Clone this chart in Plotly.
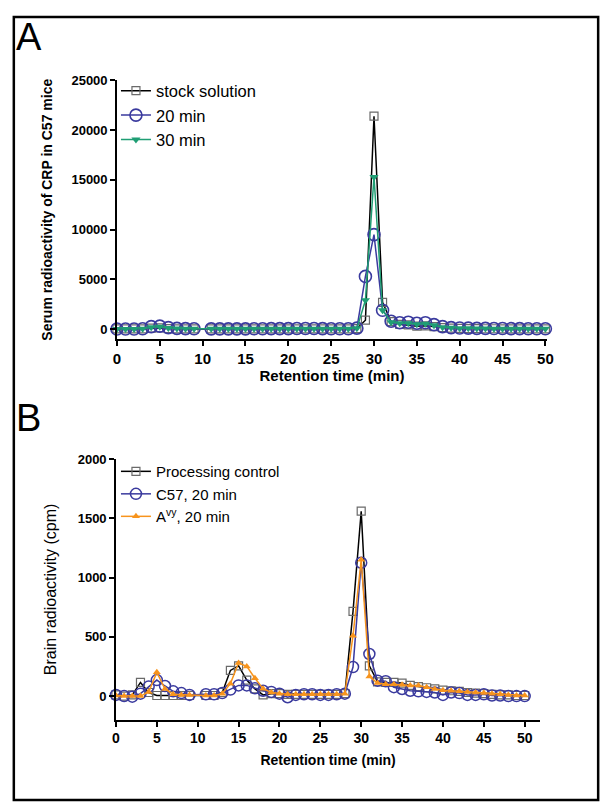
import plotly.graph_objects as go

# ---------------- data ----------------
x_a = list(range(0, 10)) + list(range(11, 51))
stock_solution = [20, 20, 20, 30, 100, 120, 60, 30, 20, 20,
                  20, 20, 20, 20, 20, 20, 20, 30, 30, 30,
                  30, 30, 30, 30, 30, 30, 30, 60, 900, 21400,
                  2700, 750, 480, 420, 300, 330, 250, 150, 100, 70,
                  60, 50, 40, 40, 30, 30, 30, 30, 30, 30]
min20 = [20, 20, 20, 40, 250, 300, 150, 80, 50, 40,
         30, 30, 30, 30, 30, 40, 40, 50, 50, 50,
         60, 60, 60, 50, 40, 40, 40, 100, 5300, 9500,
         1900, 800, 650, 700, 600, 650, 450, 250, 150, 120,
         100, 80, 80, 60, 60, 50, 50, 40, 40, 40]
min30 = [20, 20, 20, 30, 200, 250, 120, 60, 40, 30,
         30, 30, 30, 30, 30, 30, 40, 40, 40, 40,
         50, 50, 50, 40, 40, 40, 40, 80, 2900, 15300,
         1900, 700, 600, 600, 500, 550, 400, 200, 130, 100,
         80, 70, 60, 50, 50, 40, 40, 40, 30, 30]

x_b = list(range(0, 10)) + list(range(11, 51))
processing_control = [10, 0, 10, 115, 30, 5, 5, 5, 5, 5,
                      5, 5, 30, 216, 255, 135, 60, 10, 20, 20,
                      15, 15, 15, 15, 15, 15, 15, 20, 715, 1560,
                      255, 120, 115, 115, 110, 90, 80, 70, 60, 50,
                      45, 40, 30, 25, 20, 15, 10, 10, 5, 5]
c57_20min = [10, 0, -5, 20, 80, 135, 85, 40, 25, 10,
             15, 15, 25, 55, 90, 90, 65, 45, 35, 20,
             -10, 10, 15, 15, 10, 10, 15, 20, 245, 1125,
             355, 130, 125, 75, 60, 45, 40, 35, 30, 10,
             30, 25, 10, 10, 15, 5, 5, 0, 0, 0]
avy_20min = [5, 0, 0, 0, 35, 200, 60, 15, 10, 10,
             5, 5, 20, 105, 280, 250, 150, 62, 30, 20,
             15, 15, 15, 15, 15, 15, 15, 20, 510, 1150,
             165, 110, 100, 100, 95, 90, 90, 75, 60, 50,
             45, 40, 35, 30, 25, 20, 15, 10, 5, 5]

x_ticks = list(range(0, 51, 5))
ya_ticks = [0, 5000, 10000, 15000, 20000, 25000]
yb_ticks = [0, 500, 1000, 1500, 2000]

# ---------------- figure ----------------
W, H = 614, 808
FONT = "Liberation Sans, Arial, sans-serif"

def px_x(p):
    return p / W

def px_y(p):
    return (H - p) / H

fig = go.Figure()

BLACK = "#000000"
GREY = "#6a6a6a"
BLUE = "#3a3a9e"
GREEN = "#1f9e74"
ORANGE = "#f7941d"

fig.add_trace(go.Scatter(x=x_a, y=stock_solution, name="stock solution", mode="lines+markers",
                         line=dict(color=BLACK, width=1.5),
                         marker=dict(symbol="square-open", size=8, color=GREY, line=dict(width=1.2)),
                         xaxis="x", yaxis="y", cliponaxis=False, legend="legend"))
fig.add_trace(go.Scatter(x=x_a, y=min20, name="20 min", mode="lines+markers",
                         line=dict(color=BLUE, width=1.5),
                         marker=dict(symbol="circle-open", size=12, color=BLUE, line=dict(width=1.6)),
                         xaxis="x", yaxis="y", cliponaxis=False, legend="legend"))
fig.add_trace(go.Scatter(x=x_a, y=min30, name="30 min", mode="lines+markers",
                         line=dict(color=GREEN, width=1.5),
                         marker=dict(symbol="triangle-down", size=8, color=GREEN),
                         xaxis="x", yaxis="y", cliponaxis=False, legend="legend"))

fig.add_trace(go.Scatter(x=x_b, y=processing_control, name="Processing control", mode="lines+markers",
                         line=dict(color=BLACK, width=1.5),
                         marker=dict(symbol="square-open", size=8, color=GREY, line=dict(width=1.2)),
                         xaxis="x2", yaxis="y2", cliponaxis=False, legend="legend2"))
fig.add_trace(go.Scatter(x=x_b, y=c57_20min, name="C57, 20 min", mode="lines+markers",
                         line=dict(color=BLUE, width=1.5),
                         marker=dict(symbol="circle-open", size=11, color=BLUE, line=dict(width=1.5)),
                         xaxis="x2", yaxis="y2", cliponaxis=False, legend="legend2"))
fig.add_trace(go.Scatter(x=x_b, y=avy_20min, name="A<sup>vy</sup>, 20 min", mode="lines+markers",
                         line=dict(color=ORANGE, width=1.5),
                         marker=dict(symbol="triangle-up", size=7, color=ORANGE),
                         xaxis="x2", yaxis="y2", cliponaxis=False, legend="legend2"))

axis_common = dict(showgrid=False, zeroline=False, showline=True, linecolor="black", linewidth=1.5,
                   ticks="outside", ticklen=5, tickwidth=1.5, tickcolor="black")

fig.update_layout(
    width=W, height=H, autosize=False,
    margin=dict(l=0, r=0, t=0, b=0),
    paper_bgcolor="white", plot_bgcolor="white",
    font=dict(family=FONT, color="black"),
    xaxis=dict(domain=[px_x(115), px_x(553)], range=[0, 50.2], anchor="y",
               tickvals=x_ticks, ticktext=[str(v) for v in x_ticks],
               tickfont=dict(size=15, weight="bold"),
               title=dict(text="<b>Retention time (min)</b>", font=dict(size=15), standoff=0),
               **axis_common),
    yaxis=dict(domain=[px_y(335), px_y(74)], range=[-1000, 25000], anchor="x",
               tickvals=ya_ticks, ticktext=[str(v) for v in ya_ticks],
               tickfont=dict(size=13, weight="bold"),
               title=dict(text="<b>Serum radioactivity of CRP in C57 mice</b>", font=dict(size=14), standoff=16),
               **axis_common),
    xaxis2=dict(domain=[px_x(114), px_x(546)], range=[0, 51.9], anchor="y2",
                tickvals=x_ticks, ticktext=[str(v) for v in x_ticks],
                tickfont=dict(size=14, weight="bold"),
                title=dict(text="<b>Retention time (min)</b>", font=dict(size=14), standoff=10),
                **axis_common),
    yaxis2=dict(domain=[px_y(719), px_y(456)], range=[-200, 2000], anchor="x2",
                tickvals=yb_ticks, ticktext=[str(v) for v in yb_ticks],
                tickfont=dict(size=13, weight="bold"),
                title=dict(text="Brain radioactivity (cpm)", font=dict(size=16), standoff=17),
                **axis_common),
    legend=dict(x=px_x(114), y=px_y(67), xanchor="left", yanchor="top",
                bgcolor="rgba(0,0,0,0)", font=dict(size=16.5, family=FONT), itemwidth=30,
                tracegroupgap=0),
    legend2=dict(x=px_x(114), y=px_y(452), xanchor="left", yanchor="top",
                 bgcolor="rgba(0,0,0,0)", font=dict(size=15, family=FONT), itemwidth=30,
                 tracegroupgap=0),
    showlegend=True,
)

fig.add_shape(type="rect", xref="paper", yref="paper",
              x0=px_x(10), x1=px_x(605), y0=px_y(800), y1=px_y(10),
              line=dict(color="black", width=2.5))

fig.add_annotation(text="A", xref="paper", yref="paper", x=px_x(10), y=px_y(30),
                   xanchor="left", yanchor="middle", showarrow=False,
                   font=dict(size=38, family=FONT, color="black"))
fig.add_annotation(text="B", xref="paper", yref="paper", x=px_x(10), y=px_y(415),
                   xanchor="left", yanchor="middle", showarrow=False,
                   font=dict(size=38, family=FONT, color="black"))

fig.write_html("out.html",
               config={"displayModeBar": False, "responsive": False},
               post_script="document.body.style.margin='0';document.documentElement.style.overflow='hidden';document.body.style.overflow='hidden';")
